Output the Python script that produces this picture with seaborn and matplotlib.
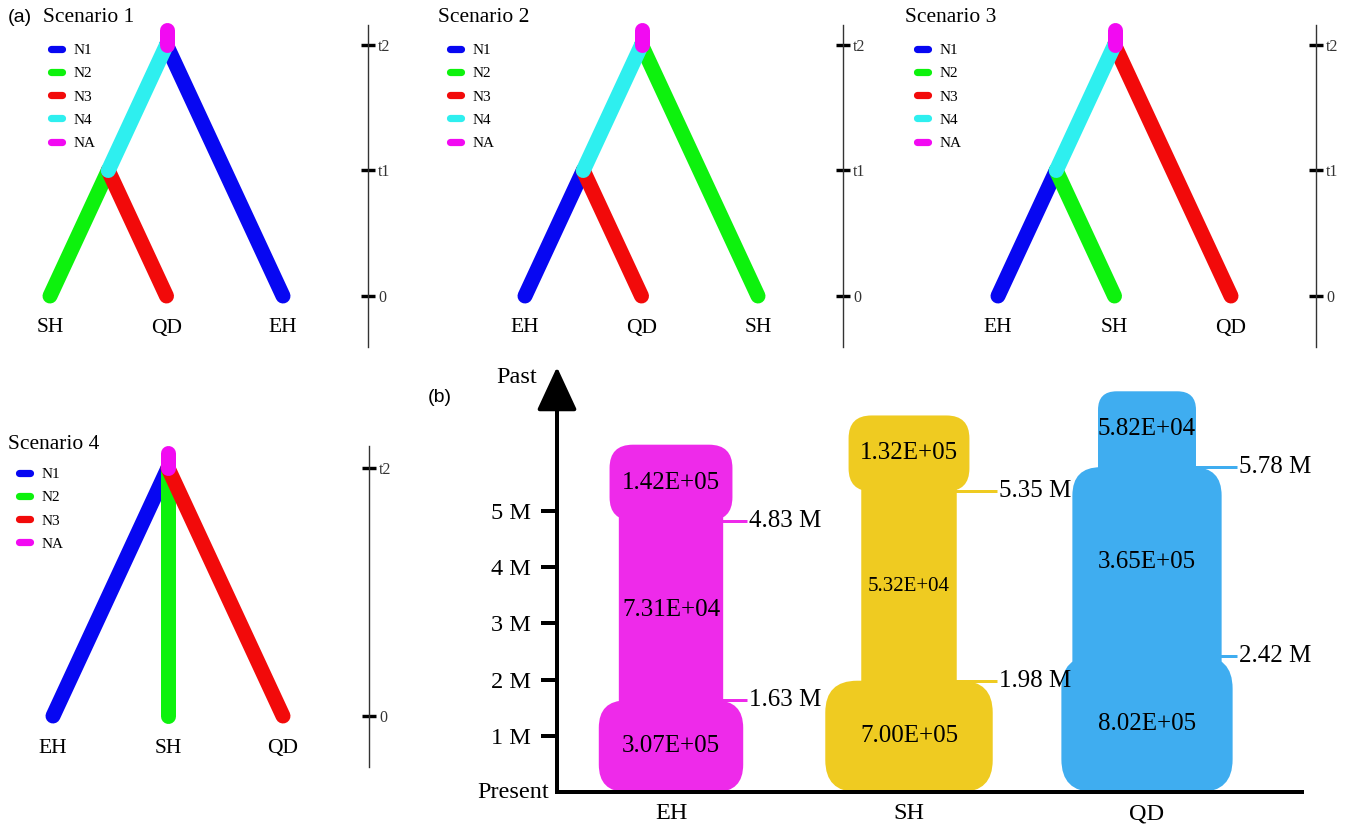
import numpy as np
import pandas as pd
import matplotlib
matplotlib.use("Agg")
import matplotlib.pyplot as plt
import seaborn as sns
from matplotlib.lines import Line2D
from matplotlib.patches import FancyBboxPatch, BoxStyle

# ---------------- data ----------------
branch_names = ["N1", "N2", "N3", "N4", "NA"]
pop_branch = {"EH": "N1", "SH": "N2", "QD": "N3"}
scenario_titles = ["Scenario 1", "Scenario 2", "Scenario 3", "Scenario 4"]
scenario_leaves = [["SH", "QD", "EH"], ["EH", "QD", "SH"], ["EH", "SH", "QD"], ["EH", "SH", "QD"]]
scenario_has_t1 = [True, True, True, False]
tree_times = [0, 1, 2]
tree_time_labels = ["0", "t1", "t2"]

populations = ["EH", "SH", "QD"]
ne_recent = [3.07e5, 7.00e5, 8.02e5]
ne_middle = [7.31e4, 5.32e4, 3.65e5]
ne_ancient = [1.42e5, 1.32e5, 5.82e4]
t_change_recent = [1.63, 1.98, 2.42]   # million years
t_change_ancient = [4.83, 5.35, 5.78]  # million years
time_ticks = [1, 2, 3, 4, 5]

# ---------------- style ----------------
branch_colors = {"N1": "#0707F2", "N2": "#0DF20D", "N3": "#F20A0A",
                 "N4": "#2EEFEF", "NA": "#F20AF2"}
pop_colors = {"EH": "#EE2AEA", "SH": "#EFCB21", "QD": "#3FADF0"}

sns.set_theme(style="white", rc={"text.color": "black", "axes.labelcolor": "black",
                                 "xtick.color": "black", "ytick.color": "black"})
plt.rcParams["font.family"] = ["Liberation Serif", "DejaVu Serif"]
SANS = ["Liberation Sans", "DejaVu Sans"]

W, H, DPI = 1352, 830, 100
PX = 72 / DPI  # points per pixel
fig = plt.figure(figsize=(W / DPI, H / DPI), dpi=DPI)


def box(left, top, right, bottom):
    return [left / W, 1 - bottom / H, (right - left) / W, (bottom - top) / H]


def fpt(x, y):
    return x / W, 1 - y / H


# ---------------- (a) scenario trees ----------------
NA_STUB = 0.12
# (leaf-0 x, t=0 y, t2 y, axis top, axis bottom, axis x, px per leaf)
tree_layout = [(50, 296, 45, 25, 347, 368, 116.5),
               (525, 296, 45, 25, 347, 843, 116.5),
               (998, 296, 45, 25, 347, 1316, 116.5),
               (53, 716, 468, 446, 767, 369, 115.0)]
title_pos = [(43, 17), (438, 17), (905, 17), (8, 444)]
legend_pos = [(47, 49), (446, 49), (913, 49), (15, 473)]


def tree_segments(leaves, has_t1):
    rows = []
    root = (1.0, 2.0)
    seg = 0

    def add(branch, a, b):
        nonlocal seg
        rows.append({"seg": seg, "branch": branch, "x": a[0], "t": a[1]})
        rows.append({"seg": seg, "branch": branch, "x": b[0], "t": b[1]})
        seg += 1

    if has_t1:
        node = (0.5, 1.0)
        add(pop_branch[leaves[0]], (0.0, 0.0), node)
        add(pop_branch[leaves[1]], (1.0, 0.0), node)
        add("N4", node, root)
        add(pop_branch[leaves[2]], (2.0, 0.0), root)
    else:
        for j, leaf in enumerate(leaves):
            add(pop_branch[leaf], (float(j), 0.0), root)
    add("NA", root, (root[0], root[1] + NA_STUB))
    return pd.DataFrame(rows)


for s in range(4):
    x0, y0, yt2, top, bottom, spine, ux = tree_layout[s]
    uy = (y0 - yt2) / 2
    ax = fig.add_axes(box(x0 - 45, top, spine, bottom))
    ax.set_xlim(-45 / ux, (spine - x0) / ux)
    ax.set_ylim(-(bottom - y0) / uy, (y0 - top) / uy)

    df = tree_segments(scenario_leaves[s], scenario_has_t1[s])
    present = [b for b in branch_names if b in set(df["branch"])]
    sns.lineplot(data=df, x="x", y="t", hue="branch", units="seg", estimator=None,
                 sort=False, palette=branch_colors, hue_order=present,
                 linewidth=10.8, solid_capstyle="round", legend=False, ax=ax)
    for line in ax.get_lines():
        line.set_clip_on(False)

    for j, leaf in enumerate(scenario_leaves[s]):
        ax.text(j, -32 / uy, leaf, ha="center", va="center", fontsize=15.5)

    for side in ["left", "top", "bottom"]:
        ax.spines[side].set_visible(False)
    ax.spines["right"].set_color("#333333")
    ax.spines["right"].set_linewidth(1.0)
    ticks = tree_times if scenario_has_t1[s] else [0, 2]
    labels = [tree_time_labels[tree_times.index(t)] for t in ticks]
    ax.set_xticks([])
    ax.set_yticks(ticks, labels)
    ax.tick_params(axis="y", left=False, right=True, labelleft=False, labelright=True,
                   direction="inout", length=14 * PX, width=3.4 * PX, pad=3 * PX,
                   labelsize=11.5, labelcolor="#333333", color="black")
    ax.set_xlabel("")
    ax.set_ylabel("")

    tx, ty = title_pos[s]
    fig.text(*fpt(tx, ty), scenario_titles[s], fontsize=15.5, va="center", ha="left")

    handles = [Line2D([], [], color=branch_colors[b], lw=5.2, solid_capstyle="round")
               for b in present]
    lx, ly = legend_pos[s]
    ax.legend(handles, present, loc="upper left",
              bbox_to_anchor=fpt(lx + 3.5, ly - 5.5), bbox_transform=fig.transFigure,
              frameon=False, borderpad=0, borderaxespad=0, handlelength=0.75,
              handletextpad=0.75, labelspacing=0.62, prop={"size": 11})

fig.text(*fpt(8, 17), "(a)", fontsize=14, family=SANS, va="center", ha="left")

# ---------------- (b) demographic history ----------------
axb = fig.add_axes(box(557, 367, 1302, 792))
xlim = (-(671 - 557) / 238, (1302 - 671) / 238)
ylim = (0, (792 - 367) / 56.2)
axb.set_xlim(*xlim)
axb.set_ylim(*ylim)
px_per_x = 745 / (xlim[1] - xlim[0])
px_per_y = 425 / (ylim[1] - ylim[0])
aspect = px_per_x / px_per_y

ANCIENT_SPAN = 1.35     # drawn height of the oldest epoch
EXTEND = 35 / px_per_y  # overlap of a narrow epoch into a wider neighbour


def width_px(ne):
    return 130.4 + 64.3 * (np.log10(ne) - 5.269)


for i, pop in enumerate(populations):
    color = pop_colors[pop]
    nes = [ne_recent[i], ne_middle[i], ne_ancient[i]]
    bounds = [0.0, t_change_recent[i], t_change_ancient[i],
              t_change_ancient[i] + ANCIENT_SPAN]
    wpx = [width_px(n) for n in nes]
    label_x = i + (max(wpx) / 2 + 4) / px_per_x

    for t in (t_change_recent[i], t_change_ancient[i]):
        axb.plot([i, label_x], [t, t], color=color, lw=3 * PX,
                 solid_capstyle="butt", zorder=1)
        axb.annotate(f"{t:.2f} M", xy=(label_x, t), xytext=(2 * PX, 0),
                     textcoords="offset points", ha="left", va="center", fontsize=18)

    for k in range(3):
        lo, hi = bounds[k], bounds[k + 1]
        if k > 0 and wpx[k - 1] > wpx[k]:
            lo -= EXTEND
        if k < 2 and wpx[k + 1] > wpx[k]:
            hi += EXTEND
        w = wpx[k] / px_per_x
        r = 0.19 * wpx[k] / px_per_x
        patch = FancyBboxPatch((i - w / 2, lo), w, hi - lo,
                               boxstyle=BoxStyle.Round(pad=0, rounding_size=r),
                               mutation_aspect=aspect, fc=color, ec="none", lw=0,
                               zorder=2)
        axb.add_patch(patch)
        yc = (bounds[k] + bounds[k + 1]) / 2
        fs = 15 if wpx[k] < 97 else 18
        axb.text(i, yc, f"{nes[k]:.2E}", ha="center", va="center", fontsize=fs, zorder=3)

for side in ["left", "top", "right"]:
    axb.spines[side].set_visible(False)
axb.spines["bottom"].set_linewidth(4 * PX)
axb.spines["bottom"].set_color("black")
axb.spines["bottom"].set_zorder(5)

axb.annotate("", xy=(0, 1), xytext=(0, 0), xycoords="axes fraction",
             arrowprops=dict(arrowstyle="-|>,head_length=2.7,head_width=1.25",
                             mutation_scale=10, lw=4 * PX, color="black",
                             shrinkA=0, shrinkB=0), zorder=6)

axb.set_yticks(time_ticks, [f"{t} M" for t in time_ticks])
axb.set_xticks(range(len(populations)), populations)
axb.tick_params(axis="y", left=True, direction="out", length=16 * PX, width=4 * PX,
                pad=10 * PX, labelsize=17.5)
axb.tick_params(axis="x", bottom=False, length=0, pad=11 * PX, labelsize=17.5)
axb.set_xlabel("")
axb.set_ylabel("")
axb.annotate("Present", xy=(0, 0), xycoords="axes fraction", xytext=(-8 * PX, 0),
             textcoords="offset points", ha="right", va="center", fontsize=17.5)
axb.annotate("Past", xy=(0, 1), xycoords="axes fraction", xytext=(-20 * PX, -10 * PX),
             textcoords="offset points", ha="right", va="center", fontsize=17.5)
fig.text(*fpt(428, 397), "(b)", fontsize=14, family=SANS, va="center", ha="left")

fig.savefig("out.png", dpi=DPI)
